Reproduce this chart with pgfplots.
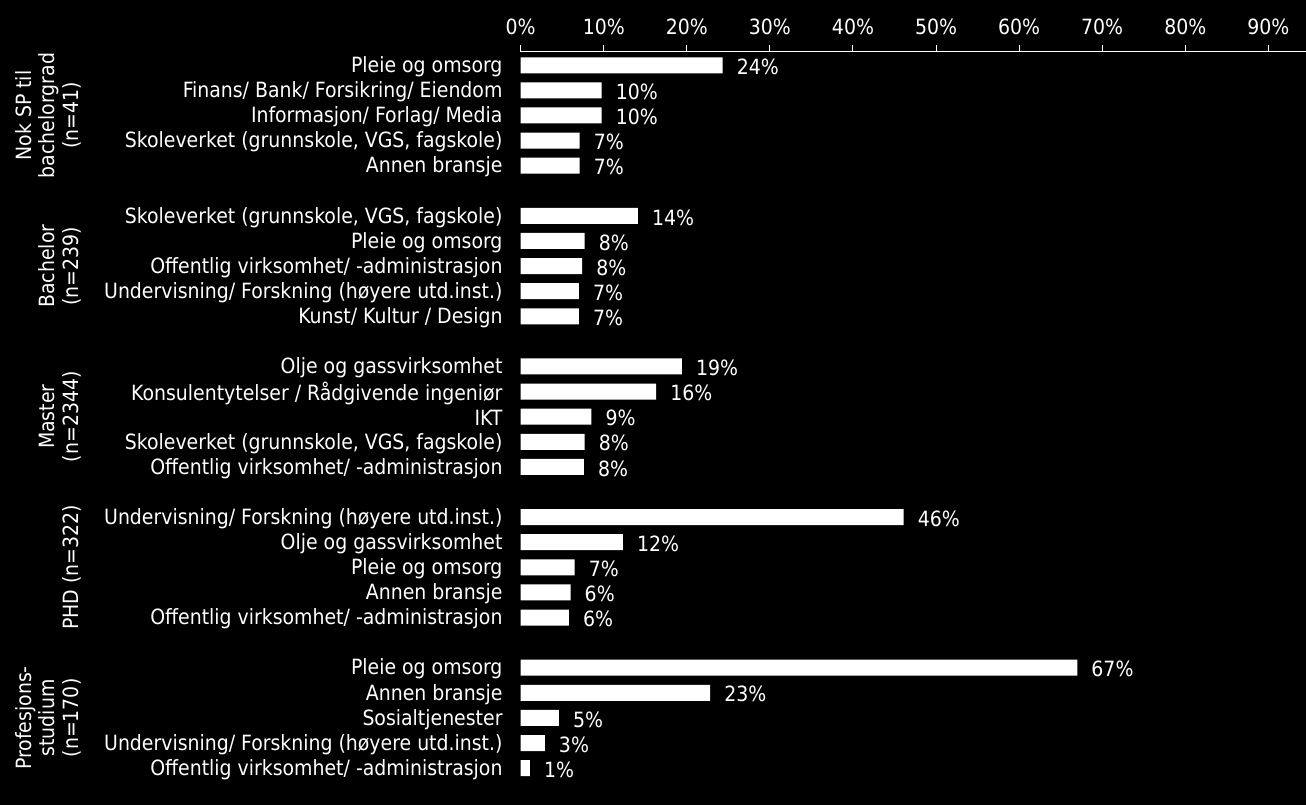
\documentclass[border=0pt]{standalone}
\usepackage{pgfplots}
\pgfplotsset{compat=1.18}
\usepackage{pgfplotstable}
\usepackage{fontspec}
\setmainfont{DejaVu Sans Condensed}

% one series: row position, share, printed label
\pgfplotstableread{
y    val   lab
0    24.3  24
-1   9.75  10
-2   9.75  10
-3   7.1   7
-4   7.1   7
-6   14.1  14
-7   7.7   8
-8   7.4   8
-9   7.0   7
-10  7.0   7
-12  19.4  19
-13  16.3  16
-14  8.5   9
-15  7.7   8
-16  7.6   8
-18  46.1  46
-19  12.3  12
-20  6.5   7
-21  6.0   6
-22  5.8   6
-24  67.0  67
-25  22.8  23
-26  4.6   5
-27  2.9   3
-28  1.1   1
}\data

\begin{document}
\begin{tikzpicture}[font=\fontsize{21bp}{23.5bp}\selectfont]
\fill[black] (0,0) rectangle (1306bp,805bp);
\begin{axis}[
    at={(520.7bp,753bp)}, anchor=north west,
    x=8.307bp, y=25.1bp,
    xmin=0, xmax=94.5,
    ymin=-28.6, ymax=0.53,
    axis x line*=top,
    axis y line*=left,
    y axis line style={draw=none},
    x axis line style={white, line width=1bp, -},
    xtick={0,10,...,90},
    xticklabel={\pgfmathprintnumber{\tick}\%},
    /pgf/number format/assume math mode=true,
    x tick style={white, line width=1bp},
    tick align=outside,
    major tick length=7bp,
    y tick style={draw=none},
    xticklabel style={text=white, yshift=7bp},
    ytick={0,-1,-2,-3,-4,-6,-7,-8,-9,-10,-12,-13,-14,-15,-16,-18,-19,-20,-21,-22,-24,-25,-26,-27,-28},
    yticklabels={
        Pleie og omsorg,
        Finans/ Bank/ Forsikring/ Eiendom,
        Informasjon/ Forlag/ Media,
        {Skoleverket (grunnskole, VGS, fagskole)},
        Annen bransje,
        {Skoleverket (grunnskole, VGS, fagskole)},
        Pleie og omsorg,
        Offentlig virksomhet/ -administrasjon,
        Undervisning/ Forskning (høyere utd.inst.),
        Kunst/ Kultur / Design,
        Olje og gassvirksomhet,
        Konsulentytelser / Rådgivende ingeniør,
        IKT,
        {Skoleverket (grunnskole, VGS, fagskole)},
        Offentlig virksomhet/ -administrasjon,
        Undervisning/ Forskning (høyere utd.inst.),
        Olje og gassvirksomhet,
        Pleie og omsorg,
        Annen bransje,
        Offentlig virksomhet/ -administrasjon,
        Pleie og omsorg,
        Annen bransje,
        Sosialtjenester,
        Undervisning/ Forskning (høyere utd.inst.),
        Offentlig virksomhet/ -administrasjon},
    yticklabel style={text=white, anchor=east, inner sep=0pt, xshift=-11bp, yshift=-1.5bp},
    clip=false,
]
\addplot[xbar, fill=white, draw=none, bar width=16bp,
    nodes near coords={\pgfplotspointmeta\%},
    point meta=explicit symbolic,
    nodes near coords style={anchor=west, inner sep=0pt, xshift=14bp, yshift=-1.5bp, text=white}]
    table[x=val, y=y, meta=lab] {\data};

\begin{scope}[every node/.style={rotate=90, anchor=south, align=center, inner sep=0pt, text=white}]
\node at (axis cs:-52.9,-2)  {Nok SP til\\bachelorgrad\\(n=41)};
\node at (axis cs:-52.9,-8)  {Bachelor\\(n=239)};
\node at (axis cs:-52.9,-14) {Master\\(n=2344)};
\node at (axis cs:-52.9,-20) {PHD (n=322)};
\node at (axis cs:-52.9,-26) {Profesjons-\\studium\\(n=170)};
\end{scope}
\end{axis}
\pgfresetboundingbox
\path[use as bounding box] (0,0) rectangle (1306bp,805bp);
\end{tikzpicture}
\end{document}
